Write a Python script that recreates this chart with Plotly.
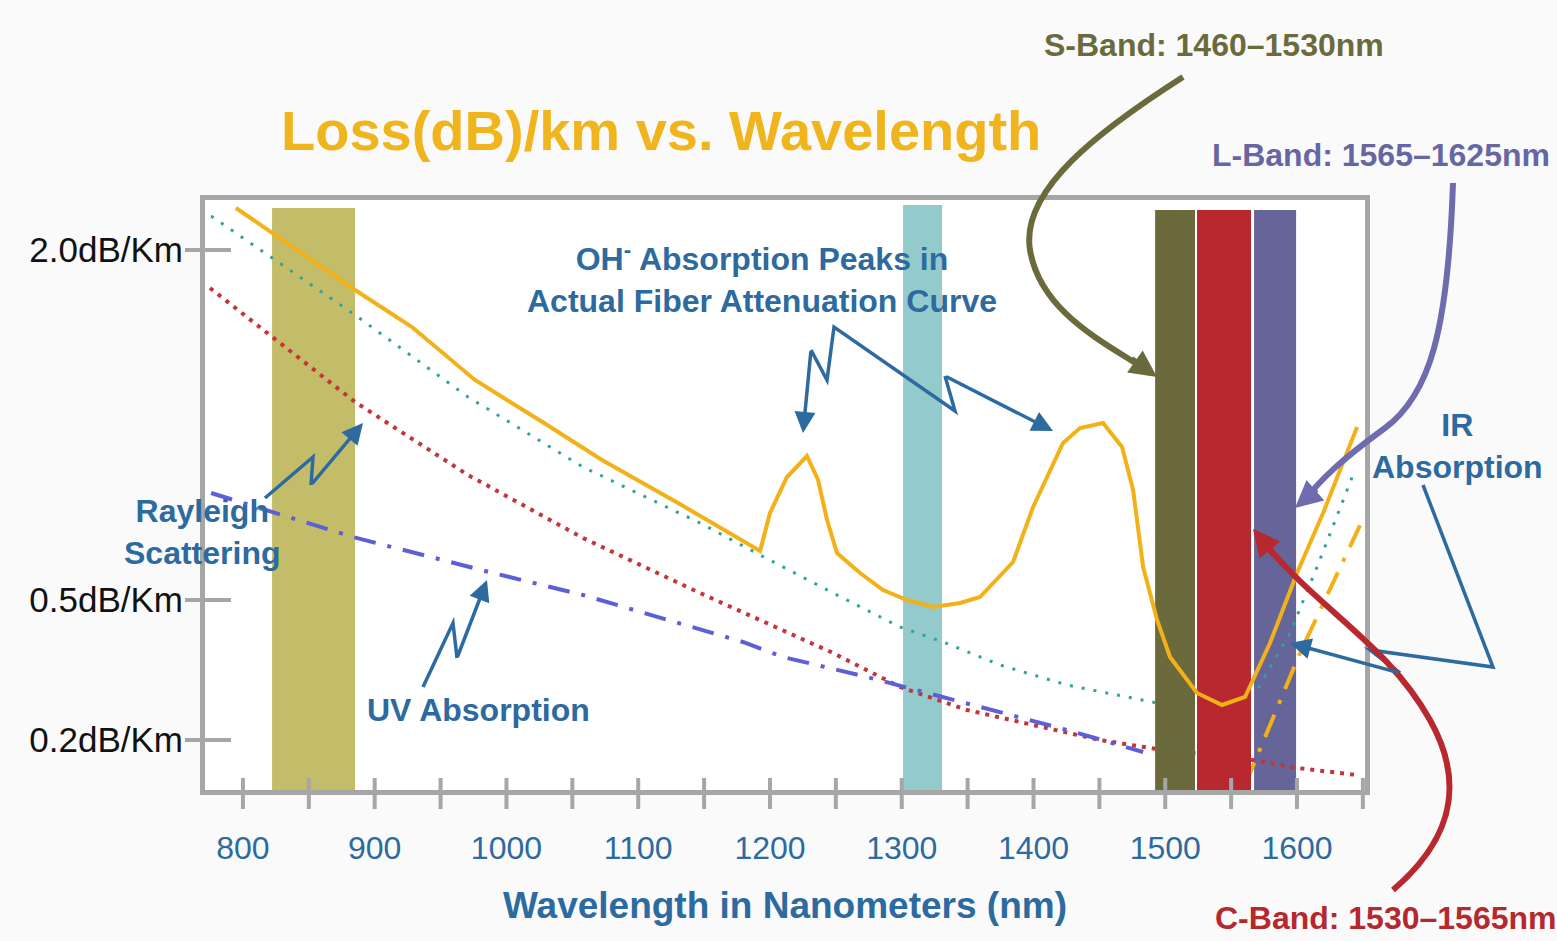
import plotly.graph_objects as go

# ---------------- data ----------------
# wavelength (nm) and schematic loss position (relative vertical units of the drawing)
att_nm = [794.7, 885.1, 928.3, 976.1, 1028.5, 1072.5, 1130.2, 1192.5, 1200.0, 1212.9, 1228.1,
          1236.5, 1243.3, 1250.9, 1268.4, 1285.8, 1304.0, 1323.8, 1344.2, 1359.4, 1384.5,
          1399.7, 1422.4, 1435.3, 1452.8, 1467.2, 1475.6, 1483.2, 1493.8, 1503.6, 1524.1,
          1543.1, 1560.6, 1579.5, 1600.0, 1619.8, 1645.6]
att_loss = [582, 500, 463, 410, 367, 330, 287, 239, 277, 313, 334,
            310, 270, 237, 217, 200, 190, 183, 187, 193, 228,
            283, 347, 362, 367, 343, 300, 223, 170, 133, 97,
            85, 93, 147, 217, 277, 363]

ray_nm = [775.8, 885.1, 970.8, 1058.1, 1146.9, 1192.5, 1247.9, 1298.7, 1331.4, 1374.6, 1425.5,
          1493.8, 1569.7, 1594.7, 1615.2, 1642.5]
ray_loss = [574, 475, 393, 323, 267, 235, 197, 163, 148, 125, 105,
            87, 100, 157, 223, 315]

red_nm = [775.0, 885.1, 970.8, 1058.1, 1146.9, 1197.8, 1247.9, 1298.7, 1349.6, 1399.7, 1450.5,
          1488.5, 1566.6, 1600.0, 1645.6]
red_loss = [502, 388, 315, 252, 197, 167, 137, 103, 80, 65, 50,
            42, 30, 22, 15]

uv_nm = [775.8, 883.5, 989.8, 1058.1, 1179.5, 1209.9, 1273.7, 1349.6, 1425.5, 1483.2]
uv_loss = [297, 253, 217, 195, 148, 133, 113, 87, 60, 38]

ir_nm = [1560.6, 1602.3, 1647.9]
ir_loss = [5, 137, 265]

# transmission windows / bands: name, start nm, end nm, top, colour
band_names = ["850 window", "1310 window", "L-Band", "S-Band", "C-Band"]
band_start = [822.1, 1301.0, 1567.4, 1492.3, 1524.1]
band_end = [885.1, 1330.6, 1599.3, 1522.6, 1565.1]
band_top = [582, 585, 580, 580, 580]
band_color = ["#C3BD6A", "#93CACB", "#65659A", "#6B6A3C", "#B8292F"]

x_tick_vals = [800, 900, 1000, 1100, 1200, 1300, 1400, 1500, 1600]
x_minor_vals = [800, 850, 900, 950, 1000, 1050, 1100, 1150, 1200, 1250, 1300, 1350,
                1400, 1450, 1500, 1550, 1600, 1650]
y_tick_vals = [540, 190, 50]
y_tick_text = ["2.0dB/Km", "0.5dB/Km", "0.2dB/Km"]

# ---------------- layout helpers ----------------
W, H = 1557, 941
L, R, T, B = 205, 1365, 200, 790
FONT = "Liberation Sans, Arial, sans-serif"
BLUE = "#2C6AA0"
GRAY = "#A6A6A6"


def fx(p):
    return (p - L) / (R - L)


def fy(p):
    return (B - p) / (B - T)


def pth(points, cmd="L"):
    s = "M %f,%f" % (fx(points[0][0]), fy(points[0][1]))
    for p in points[1:]:
        s += " %s %f,%f" % (cmd, fx(p[0]), fy(p[1]))
    return s


def bez(start, segs):
    s = "M %f,%f" % (fx(start[0]), fy(start[1]))
    for c, pts in segs:
        s += " " + c + " " + " ".join("%f,%f" % (fx(a), fy(b)) for a, b in pts)
    return s


fig = go.Figure()


def add_band(i):
    x0, x1, top = band_start[i], band_end[i], band_top[i]
    fig.add_trace(go.Scatter(x=[x0, x1, x1, x0, x0], y=[0, 0, top, top, 0], mode="lines",
                             fill="toself", fillcolor=band_color[i], line=dict(width=0),
                             name=band_names[i], hoverinfo="skip"))


add_band(0)
add_band(1)
add_band(2)

fig.add_trace(go.Scatter(x=red_nm, y=red_loss, mode="lines", name="Rayleigh scattering",
                         line=dict(color="#C1363B", width=4, dash="4px,6px")))
fig.add_trace(go.Scatter(x=ray_nm, y=ray_loss, mode="lines", name="Intrinsic",
                         line=dict(color="#33A29D", width=3, dash="3px,9px")))
fig.add_trace(go.Scatter(x=uv_nm, y=uv_loss, mode="lines", name="UV absorption",
                         line=dict(color="#5C5FD6", width=4, dash="22px,12px,4px,12px")))
fig.add_trace(go.Scatter(x=ir_nm, y=ir_loss, mode="lines", name="IR absorption",
                         line=dict(color="#F2B118", width=4, dash="24px,12px,4px,12px")))

add_band(3)
add_band(4)

fig.add_trace(go.Scatter(x=att_nm, y=att_loss, mode="lines", name="Attenuation",
                         line=dict(color="#F2B118", width=4)))

shapes = []
# crossing tick marks
for v in x_minor_vals:
    shapes.append(dict(type="line", xref="x", yref="paper", x0=v, x1=v,
                       y0=fy(809), y1=fy(778), line=dict(color=GRAY, width=4)))
for v in y_tick_vals:
    shapes.append(dict(type="line", xref="paper", yref="y", x0=fx(185), x1=fx(231),
                       y0=v, y1=v, line=dict(color=GRAY, width=4)))

# zigzag pointer lines
zig = [
    [(265, 498), (313, 457), (311, 485)],
    [(423, 687), (453, 623), (457, 658)],
    [(811, 350), (827, 380), (834, 327), (955, 411), (945, 376)],
    [(1423, 485), (1493, 667), (1370, 650), (1400, 673)],
]
for z in zig:
    shapes.append(dict(type="path", xref="paper", yref="paper", path=pth(z),
                       line=dict(color=BLUE, width=3.5)))

# curved band pointers
shapes.append(dict(type="path", xref="paper", yref="paper",
                   path=bez((1183, 77), [("C", [(1100, 130), (1020, 190), (1030, 250)]),
                                         ("S", [(1100, 340), (1140, 366)])]),
                   line=dict(color="#6B6A3C", width=6)))
shapes.append(dict(type="path", xref="paper", yref="paper",
                   path=bez((1453, 183), [("C", [(1448, 330), (1430, 395), (1385, 428)]),
                                         ("S", [(1320, 480), (1305, 500)])]),
                   line=dict(color="#6E6BAE", width=6)))
shapes.append(dict(type="path", xref="paper", yref="paper",
                   path=bez((1393, 890), [("C", [(1440, 850), (1472, 795), (1430, 720)]),
                                         ("S", [(1320, 610), (1266, 545)])]),
                   line=dict(color="#B8292F", width=6)))

ann = []


def text(t, x, y, size, color):
    ann.append(dict(text=t, x=fx(x), y=fy(y), xref="paper", yref="paper", showarrow=False,
                    xanchor="center", yanchor="middle",
                    font=dict(family=FONT, size=size, color=color)))


def arrow(start, tip, color, width, size=1.2):
    ann.append(dict(text="", x=fx(tip[0]), y=fy(tip[1]), xref="paper", yref="paper",
                    ax=start[0] - tip[0], ay=start[1] - tip[1], showarrow=True,
                    arrowhead=2, arrowsize=size, arrowwidth=width, arrowcolor=color,
                    standoff=0, startstandoff=0))


text("<b>Loss(dB)/km vs. Wavelength</b>", 661, 130, 56, "#F0B41C")
text("<b>S-Band: 1460–1530nm</b>", 1214, 45, 32, "#6B6A3C")
text("<b>L-Band: 1565–1625nm</b>", 1381, 155, 32, "#6666A3")
text("<b>C-Band: 1530–1565nm</b>", 1386, 918, 32, "#B5282E")
text("<b>IR<br>Absorption</b>", 1457, 446, 32, BLUE)
text("<b>OH<sup>-</sup> Absorption Peaks in<br>Actual Fiber Attenuation Curve</b>", 762, 278, 32, BLUE)
text("<b>Rayleigh<br>Scattering</b>", 202, 532, 32, BLUE)
text("<b>UV Absorption</b>", 478, 710, 32, BLUE)

arrow((311, 485), (363, 423), BLUE, 3.5)
arrow((457, 658), (487, 580), BLUE, 3.5)
arrow((811, 350), (803, 433), BLUE, 3.5)
arrow((945, 376), (1053, 431), BLUE, 3.5)
arrow((1400, 673), (1290, 643), BLUE, 3.5)
arrow((1130, 358), (1157, 377), "#6B6A3C", 6, 0.9)
arrow((1318, 488), (1295, 508), "#6E6BAE", 6, 0.9)
arrow((1275, 556), (1253, 529), "#B8292F", 6, 0.9)

fig.update_layout(
    width=W, height=H,
    margin=dict(l=L, r=W - R, t=T, b=H - B, pad=0),
    paper_bgcolor="#FAFAFA", plot_bgcolor="white",
    showlegend=False, shapes=shapes, annotations=ann,
    font=dict(family=FONT),
)
fig.update_xaxes(range=[771.2, 1651.6], showgrid=False, zeroline=False, showline=True,
                 mirror=True, linecolor=GRAY, linewidth=5, ticks="",
                 tickvals=x_tick_vals, ticktext=[str(v) for v in x_tick_vals],
                 tickfont=dict(family=FONT, size=32, color=BLUE), ticklabelstandoff=26,
                 title=dict(text="<b>Wavelength in Nanometers (nm)</b>",
                            font=dict(family=FONT, size=37, color=BLUE), standoff=28))
fig.update_yaxes(range=[0, 590], showgrid=False, zeroline=False, showline=True,
                 mirror=True, linecolor=GRAY, linewidth=5, ticks="",
                 tickvals=y_tick_vals, ticktext=y_tick_text,
                 tickfont=dict(family=FONT, size=35, color="#111111"), ticklabelstandoff=10)

fig.write_html("out.html", config={"displayModeBar": False},
               post_script="document.body.style.margin='0';")
